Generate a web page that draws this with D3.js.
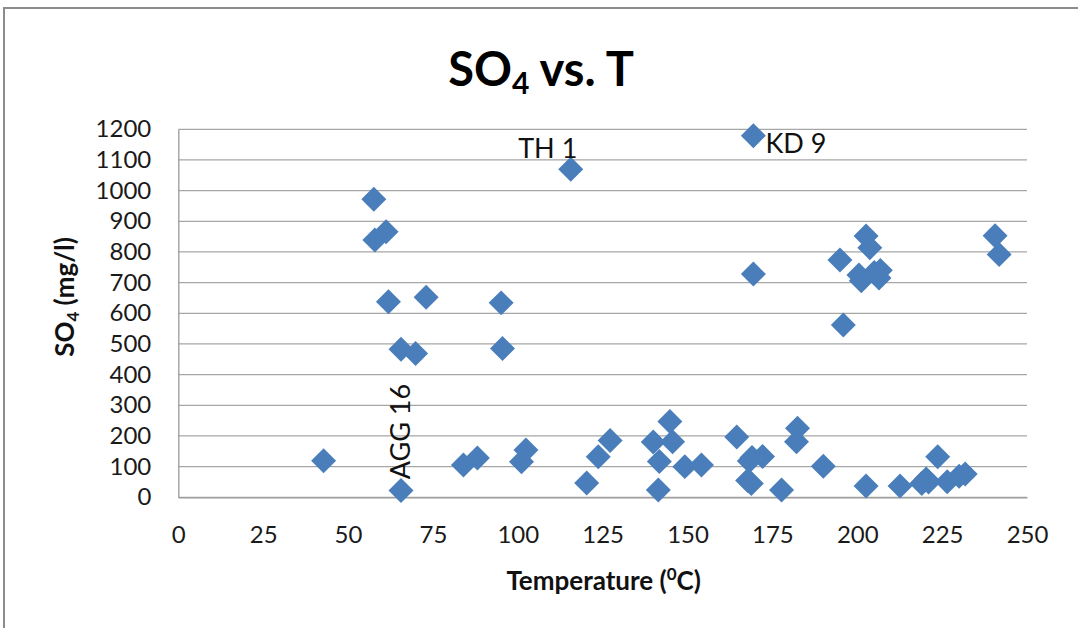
<!DOCTYPE html>
<html>
<head>
<meta charset="utf-8">
<script src="https://cdn.jsdelivr.net/npm/d3@7"></script>
<style>
  html, body { margin: 0; padding: 0; background: #fff; }
  svg { display: block; font-family: Lato, "Open Sans", sans-serif; }
</style>
</head>
<body>
<svg id="chart" width="1078" height="628"></svg>
<script>
// Sample temperature (°C) and sulphate concentration (mg/l)
const temperature = [42.8, 57.6, 57.9, 61.2, 61.9, 73, 65.6, 69.9, 65.6, 84, 88.1, 95.1, 95.5,
  101.1, 102.4, 115.6, 120.3, 123.7, 127.2, 139.9, 144.8, 145.6, 141.7, 141.4, 149.2, 154.1,
  164.5, 169.4, 169.4, 169, 172.1, 168.2, 167.7, 168.8, 177.7, 182.4, 182.1, 190, 194.9, 195.9,
  202.6, 203.7, 200.5, 201.2, 205, 206.8, 206.4, 202.6, 212.6, 219, 220.3, 221, 223.7, 226.5,
  230, 231.8, 240.6, 241.8];
const sulphate = [119, 972, 839, 866, 638, 652, 483, 469, 22, 105, 128, 634, 485,
  116, 154, 1070, 47, 132, 185, 180, 247, 181, 117, 24, 100, 105,
  197, 1179, 728, 130, 133, 118, 55, 45, 24, 225, 181, 101, 774, 562,
  852, 814, 725, 706, 733, 740, 715, 37, 37, 45, 60, 50, 132, 51,
  69, 76, 853, 792];

// Named wells
const labelNames = ["TH 1", "KD 9", "AGG 16"];
const labelIndex = [15, 27, 8];

const xTicks = [0, 25, 50, 75, 100, 125, 150, 175, 200, 225, 250];
const yTicks = [0, 100, 200, 300, 400, 500, 600, 700, 800, 900, 1000, 1100, 1200];

const svg = d3.select("#chart");
const plot = { left: 178.3, right: 1027, top: 129.3, bottom: 497.3 };

const x = d3.scaleLinear().domain([0, 250]).range([plot.left, plot.right]);
const y = d3.scaleLinear().domain([0, 1200]).range([plot.bottom, plot.top]);

// chart-area frame
svg.append("rect")
  .attr("x", 4).attr("y", 8).attr("width", 1200).attr("height", 700)
  .attr("fill", "none").attr("stroke", "#8c8c8c").attr("stroke-width", 2);

// horizontal gridlines
svg.append("g")
  .selectAll("line").data(yTicks).join("line")
  .attr("x1", plot.left).attr("x2", plot.right)
  .attr("y1", d => y(d)).attr("y2", d => y(d))
  .attr("stroke", "#a6a6a6").attr("stroke-width", 1.3);

// y axis
const yAxis = svg.append("g")
  .attr("transform", `translate(${plot.left},0)`)
  .call(d3.axisLeft(y).tickValues(yTicks).tickSize(0).tickPadding(27).tickFormat(d3.format("d")));
yAxis.select(".domain").attr("stroke", "#9a9a9a").attr("stroke-width", 1.3);
yAxis.selectAll("text").attr("font-size", 24).attr("fill", "#1a1a1a")
  .attr("font-family", "Lato, sans-serif");

// x axis
const xAxis = svg.append("g")
  .attr("transform", `translate(0,${plot.bottom})`)
  .call(d3.axisBottom(x).tickValues(xTicks).tickSize(0).tickPadding(29).tickFormat(d3.format("d")));
xAxis.select(".domain").attr("stroke", "#9a9a9a").attr("stroke-width", 1.3);
xAxis.selectAll("text").attr("font-size", 24).attr("fill", "#1a1a1a")
  .attr("font-family", "Lato, sans-serif");

// data points as diamonds
const pts = temperature.map((t, i) => ({ t, s: sulphate[i] }));
svg.append("g")
  .selectAll("path").data(pts).join("path")
  .attr("d", d3.symbol(d3.symbolSquare, 312))
  .attr("transform", d => `translate(${x(d.t)},${y(d.s)}) rotate(45)`)
  .attr("fill", "#4a7ebb");

// point labels
const lbl = svg.append("g").attr("font-size", 27).attr("fill", "#111");
const th = labelIndex[0], kd = labelIndex[1], agg = labelIndex[2];
lbl.append("text")
  .attr("x", x(temperature[th]) - 23).attr("y", y(sulphate[th]) - 11)
  .attr("text-anchor", "middle").text(labelNames[0]);
lbl.append("text")
  .attr("x", x(temperature[kd]) + 12).attr("y", y(sulphate[kd]) + 17)
  .text(labelNames[1]);
lbl.append("text")
  .attr("transform", `translate(${x(temperature[agg]) + 9},${y(sulphate[agg]) - 59}) rotate(-90)`)
  .attr("text-anchor", "middle").text(labelNames[2]);

// title
const title = svg.append("text")
  .attr("x", 541).attr("y", 86)
  .attr("text-anchor", "middle")
  .attr("font-size", 47).attr("font-weight", "bold").attr("fill", "#000");
title.append("tspan").text("SO");
title.append("tspan").attr("font-size", 30).attr("dy", 8).text("4");
title.append("tspan").attr("dy", -8).text(" vs. T");

// x axis title
const xt = svg.append("text")
  .attr("x", (plot.left + plot.right) / 2 + 1).attr("y", 590)
  .attr("text-anchor", "middle")
  .attr("font-size", 26).attr("font-weight", "bold").attr("fill", "#111");
xt.append("tspan").text("Temperature (");
xt.append("tspan").attr("font-size", 17).attr("dy", -10).text("0");
xt.append("tspan").attr("dy", 10).text("C)");

// y axis title
const yt = svg.append("text")
  .attr("transform", "translate(74,297) rotate(-90)")
  .attr("text-anchor", "middle")
  .attr("font-size", 26).attr("font-weight", "bold").attr("fill", "#111");
yt.append("tspan").text("SO");
yt.append("tspan").attr("font-size", 17).attr("dy", 5).text("4");
yt.append("tspan").attr("dy", -5).text(" (mg/l)");
</script>
</body>
</html>
